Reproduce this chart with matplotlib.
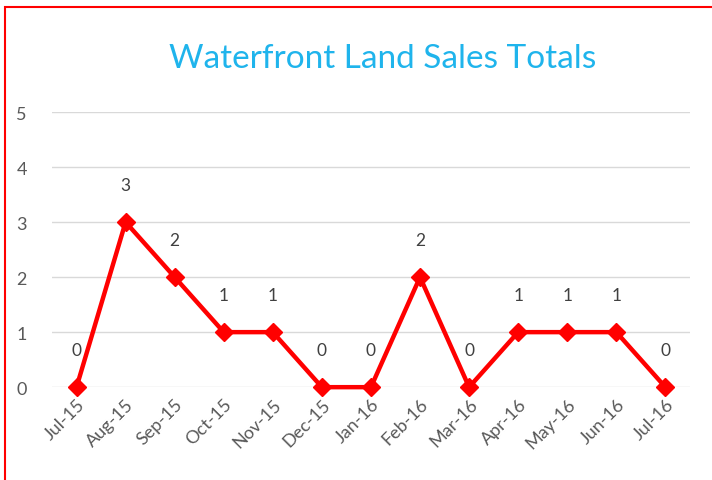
import matplotlib.pyplot as plt
from matplotlib.patches import Rectangle

months = ["Jul-15", "Aug-15", "Sep-15", "Oct-15", "Nov-15", "Dec-15", "Jan-16",
          "Feb-16", "Mar-16", "Apr-16", "May-16", "Jun-16", "Jul-16"]
sales = [0, 3, 2, 1, 1, 0, 0, 2, 0, 1, 1, 1, 0]
y_ticks = [0, 1, 2, 3, 4, 5]

plt.rcParams['font.family'] = ['Lato', 'DejaVu Sans']

fig = plt.figure(figsize=(7.12, 4.81), dpi=100)
ax = fig.add_axes([0.073, 0.193, 0.896, 0.572])

x = list(range(len(months)))
ax.plot(x, sales, color="#ff0000", linewidth=3.2, marker="D", markersize=9,
        clip_on=False, zorder=3)

# data labels above each point
for xi, v in zip(x, sales):
    ax.annotate(str(v), (xi, v), xytext=(0, 21), textcoords="offset points",
                ha="center", va="bottom", fontsize=12.5, color="#404040")

ax.set_xlim(-0.5, len(months) - 0.5)
ax.set_ylim(0, 5)
ax.set_yticks(y_ticks)
ax.set_xticks(x)
ax.set_xticklabels(months, rotation=45, ha="right", rotation_mode="anchor")
ax.tick_params(axis="both", length=0, labelsize=13, labelcolor="#595959")
ax.tick_params(axis="y", pad=18)
ax.tick_params(axis="x", pad=6)
ax.grid(axis="y", color="#d9d9d9", linewidth=1)
ax.set_axisbelow(True)
for s in ax.spines.values():
    s.set_visible(False)

fig.text(0.538, 0.877, "Waterfront Land Sales Totals", ha="center", va="center",
         fontsize=24, color="#1fb4ec")

# red frame, only left and top edges fall inside the image
fig.add_artist(Rectangle((5 / 712, -0.5), 2.0, 1.5 - 8 / 481,
                         transform=fig.transFigure, fill=False,
                         edgecolor="#ff0000", linewidth=1.5))

fig.savefig("out.png", dpi=100)
